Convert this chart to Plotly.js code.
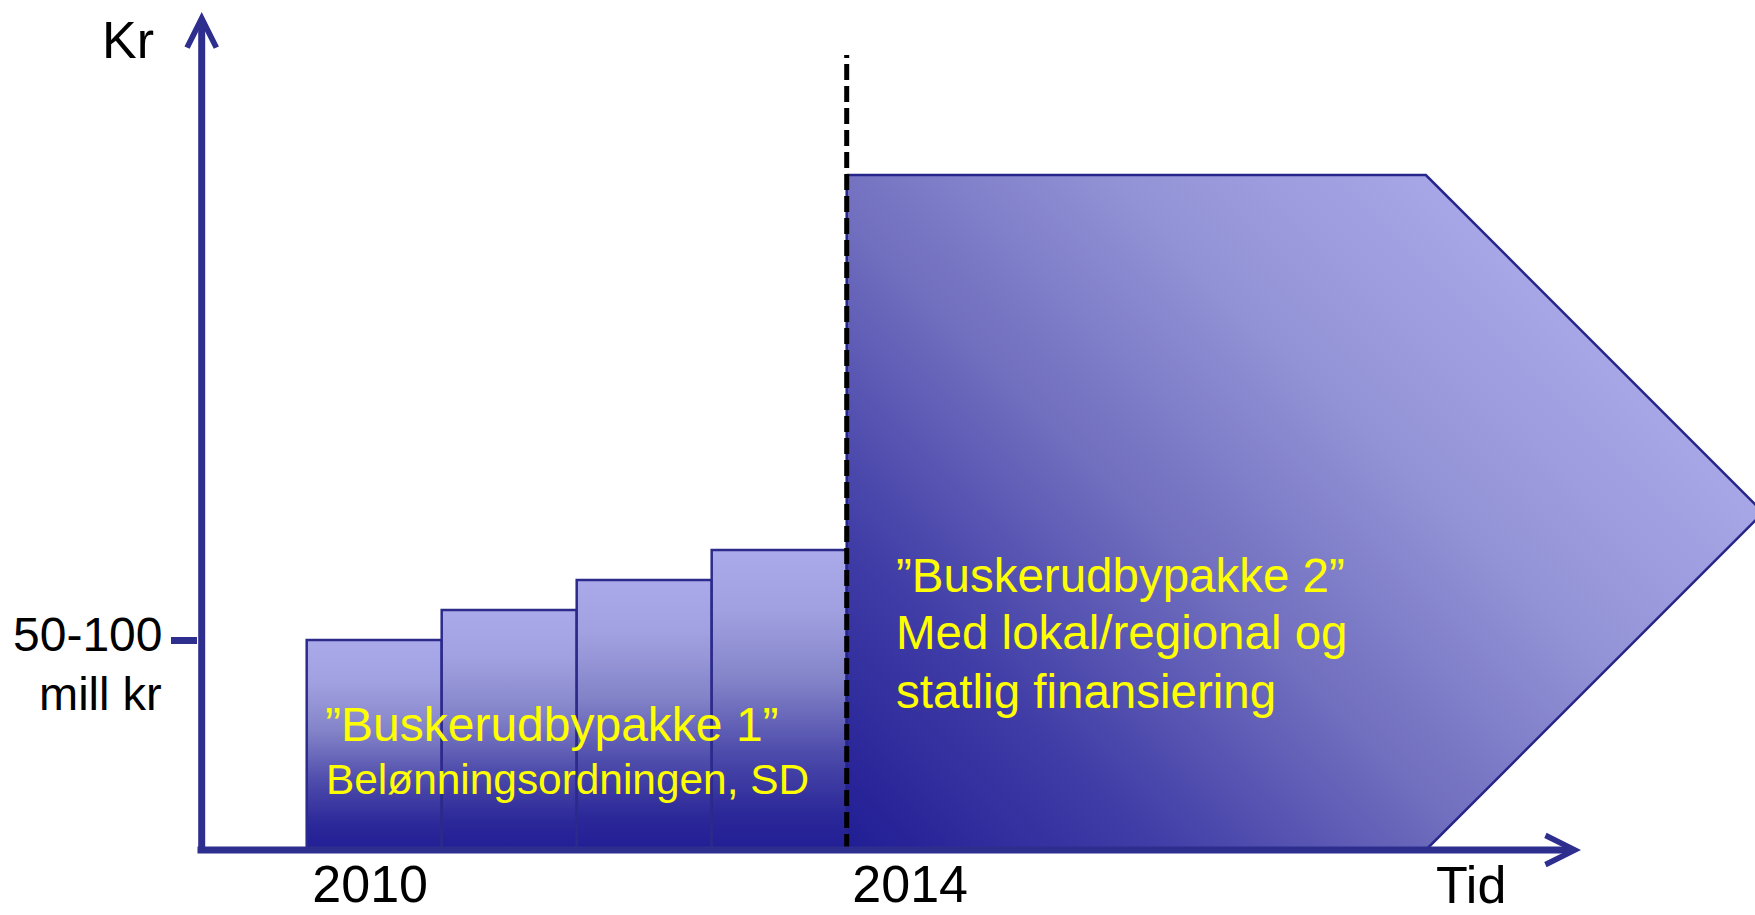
<!DOCTYPE html>
<html>
<head>
<meta charset="utf-8">
<script src="https://cdn.plot.ly/plotly-3.0.1.min.js"></script>
<style>
html,body{margin:0;padding:0;background:#ffffff;overflow:hidden}
#chart{width:1755px;height:915px}
</style>
</head>
<body>
<div id="chart"></div>
<script>
// ---------------- data ----------------
const years = [2010, 2011, 2012, 2013];            // "Buskerudbypakke 1" years
const pkg1Levels = [7, 8, 9, 10];                   // relative yearly level (tick 7 = 50-100 mill kr)
const pkg2Start = 2014;                             // "Buskerudbypakke 2" starts
const pkg2PlateauEnd = 2018.29;                     // end of flat top
const pkg2ArrowEnd = 2020.79;                       // arrow tip (continues)
const pkg2Level = 22.5;                             // relative level of package 2
const transitionYear = 2014;
const transitionTop = 26.5;
const xTickVals = [2010.5, 2014.5];
const xTickText = ['2010', '2014'];
const yTickVals = [7];
const yTickText = ['50-100', 'mill kr'];
const pkg1Label = ['\u201DBuskerudbypakke 1\u201D', 'Belønningsordningen, SD'];
const pkg2Label = ['\u201DBuskerudbypakke 2\u201D', 'Med lokal/regional og', 'statlig finansiering'];
const yAxisTitle = 'Kr';
const xAxisTitle = 'Tid';

// ---------------- geometry / style ----------------
const W = 1755, H = 915;
const ML = 198, MB = 60;
const PX_PER_YEAR = 135, PX_PER_UNIT = 30;
const YEAR0_PX = 306.7;   // pixel x of 2010
const ZERO_PX = 850;      // pixel y of value 0
const xMin = 2010 - (YEAR0_PX - ML) / PX_PER_YEAR;
const xMax = 2010 + (W - YEAR0_PX) / PX_PER_YEAR;
const yMin = -(H - MB - ZERO_PX) / PX_PER_UNIT;
const yMax = ZERO_PX / PX_PER_UNIT;
const px2x = X => 2010 + (X - YEAR0_PX) / PX_PER_YEAR;
const px2y = Y => (ZERO_PX - Y) / PX_PER_UNIT;

const NAVY = '#2E2E8E';
const FONT = 'Liberation Sans, Arial, Helvetica, sans-serif';
const YELLOW = '#FFFF00';

const barScale = [[0, '#221E95'], [0.12, '#2B2899'], [0.32, '#4C4AAA'], [0.56, '#8282C8'], [0.8, '#A1A1E1'], [1, '#AAAAEA']];
const pkg2Scale = [[0, '#211D94'], [0.25, '#403DA7'], [0.5, '#706EBE'], [0.75, '#9292D6'], [1, '#A7A7E7']];

const traces = years.map((yr, i) => ({
  type: 'scatter', mode: 'lines',
  x: [yr, yr, yr + 1, yr + 1, yr],
  y: [0, pkg1Levels[i], pkg1Levels[i], 0, 0],
  fill: 'toself', fillcolor: '#7C7CC4',
  fillgradient: {type: 'vertical', colorscale: barScale, start: 0, stop: pkg1Levels[i]},
  line: {color: '#2C2B8C', width: 2.5},
  hoverinfo: 'skip', showlegend: false
}));

traces.push({
  type: 'scatter', mode: 'lines',
  x: [pkg2Start, pkg2PlateauEnd, pkg2ArrowEnd, pkg2PlateauEnd, pkg2Start, pkg2Start],
  y: [pkg2Level, pkg2Level, pkg2Level / 2, 0, 0, pkg2Level],
  fill: 'toself', fillcolor: '#6E6CBC',
  fillgradient: {type: 'horizontal', colorscale: pkg2Scale, start: pkg2Start, stop: pkg2ArrowEnd},
  line: {color: '#26258A', width: 2.5},
  hoverinfo: 'skip', showlegend: false
});

function txt(X, Ytop, text, size, xanchor, color) {
  return {
    xref: 'paper', yref: 'paper',
    x: (X - ML) / (W - ML), y: (H - MB - Ytop) / (H - MB),
    xanchor: xanchor, yanchor: 'top', align: xanchor,
    text: text, showarrow: false,
    font: {family: FONT, size: size, color: color || '#000000'}
  };
}

const annotations = [
  // y axis arrow
  {xref: 'x', yref: 'y', axref: 'x', ayref: 'y',
   x: px2x(201.7), y: px2y(12), ax: px2x(201.7), ay: px2y(854),
   text: '', showarrow: true, arrowhead: 5, arrowsize: 0.82, arrowwidth: 7, arrowcolor: NAVY},
  // x axis arrow
  {xref: 'x', yref: 'y', axref: 'x', ayref: 'y',
   x: px2x(1581), y: 0, ax: px2x(196), ay: 0,
   text: '', showarrow: true, arrowhead: 5, arrowsize: 0.82, arrowwidth: 7, arrowcolor: NAVY},
  txt(156, 9, yAxisTitle, 52, 'right'),
  txt(164, 605.6, yTickText[0], 48, 'right'),
  txt(164, 664.5, yTickText[1], 47, 'right'),
  txt(1471, 854, xAxisTitle, 52, 'center'),
  txt(322.5, 695.6, pkg1Label[0], 48, 'left', YELLOW),
  txt(323.7, 753.6, pkg1Label[1], 42.4, 'left', YELLOW),
  txt(894, 546.8, pkg2Label[0], 47.5, 'left', YELLOW),
  txt(894, 604, pkg2Label[1], 47.5, 'left', YELLOW),
  txt(894, 663, pkg2Label[2], 47.5, 'left', YELLOW)
];

const layout = {
  width: W, height: H,
  margin: {l: ML, r: 0, t: 0, b: MB, pad: 0},
  paper_bgcolor: '#ffffff', plot_bgcolor: '#ffffff',
  showlegend: false,
  xaxis: {
    range: [xMin, xMax], fixedrange: true,
    showgrid: false, zeroline: false, showline: false,
    tickmode: 'array', tickvals: xTickVals, ticktext: xTickText,
    ticks: '', ticklabelstandoff: -6, ticklabelshift: -4,
    tickfont: {family: FONT, size: 52, color: '#000000'}
  },
  yaxis: {
    range: [yMin, yMax], fixedrange: true,
    showgrid: false, zeroline: false, showline: false,
    tickmode: 'array', tickvals: yTickVals,
    showticklabels: false,
    ticks: 'outside', ticklen: 26, tickwidth: 7, tickcolor: NAVY
  },
  shapes: [{
    type: 'line', xref: 'x', yref: 'y', layer: 'above',
    x0: transitionYear, x1: transitionYear, y0: 0, y1: transitionTop,
    line: {color: '#000000', width: 5, dash: '16px,6px'}
  }],
  annotations: annotations
};

Plotly.newPlot('chart', traces, layout, {staticPlot: true, displayModeBar: false}).then(gd => {
  try {
    const xa = gd._fullLayout.xaxis, ya = gd._fullLayout.yaxis;
    const groups = gd.querySelectorAll('.scatterlayer .trace');
    const g = groups[groups.length - 1];
    const path = g && g.querySelector('.js-fill');
    if (!path) return;
    const st = path.style.fill || path.getAttribute('fill') || '';
    const m = st.match(/#([^"')\s]+)/);
    if (!m) return;
    const grad = document.getElementById(m[1]);
    if (!grad) return;
    const x0 = xa.l2p(pkg2Start), y0 = ya.l2p(0);
    const xt = xa.l2p(pkg2ArrowEnd), yt = ya.l2p(pkg2Level / 2);
    const L = ((xt - x0) + (y0 - yt)) / 2;
    grad.setAttribute('gradientUnits', 'userSpaceOnUse');
    grad.removeAttribute('gradientTransform');
    grad.setAttribute('x1', x0); grad.setAttribute('y1', y0);
    grad.setAttribute('x2', x0 + L); grad.setAttribute('y2', y0 - L);
  } catch (e) { console.log(e); }
});
</script>
</body>
</html>
